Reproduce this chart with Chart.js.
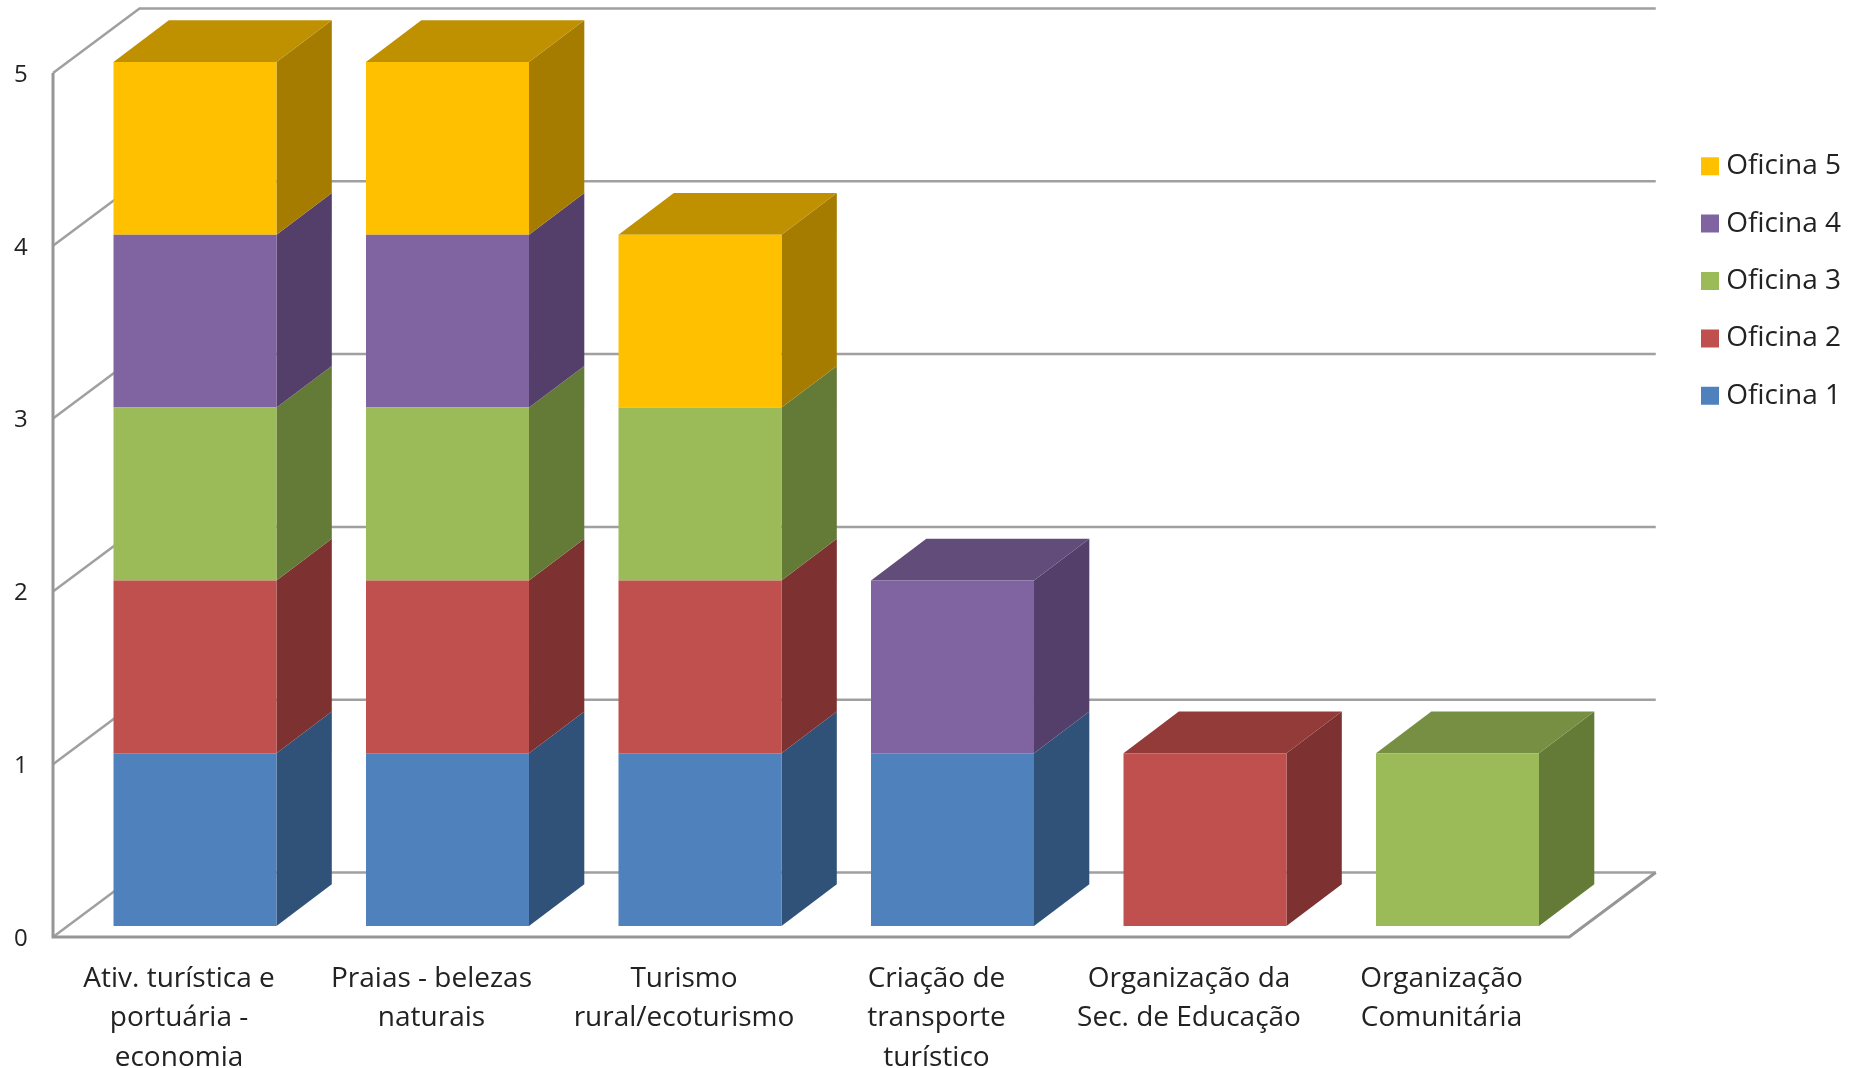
<!DOCTYPE html>
<html>
<head>
<meta charset="utf-8">
<style>
  html, body { margin: 0; padding: 0; background: #fff; }
  canvas { display: block; }
</style>
<script src="https://cdn.jsdelivr.net/npm/chart.js@4/dist/chart.umd.min.js"></script>
</head>
<body>
<canvas id="chart" width="1853" height="1068"></canvas>
<script>
// data
const categories = [
  ['Ativ. turística e', 'portuária -', 'economia'],
  ['Praias - belezas', 'naturais'],
  ['Turismo', 'rural/ecoturismo'],
  ['Criação de', 'transporte', 'turístico'],
  ['Organização da', 'Sec. de Educação'],
  ['Organização', 'Comunitária']
];
const seriesNames = ['Oficina 1', 'Oficina 2', 'Oficina 3', 'Oficina 4', 'Oficina 5'];
const oficina1 = [1, 1, 1, 1, 0, 0];
const oficina2 = [1, 1, 1, 0, 1, 0];
const oficina3 = [1, 1, 1, 0, 0, 1];
const oficina4 = [1, 1, 0, 1, 0, 0];
const oficina5 = [1, 1, 1, 0, 0, 0];
const seriesValues = [oficina1, oficina2, oficina3, oficina4, oficina5];
const yTicks = [0, 1, 2, 3, 4, 5];

// colours
const frontColors = ['#4f81bd', '#c0504d', '#9bbb59', '#8064a2', '#ffc000'];
const sideColors = ['#305278', '#7d3231', '#647a37', '#533f69', '#a67c00'];
const topColors = ['#3a6290', '#923b39', '#778f42', '#614c7a', '#bf9000'];
const gridColor = '#a0a0a0';
const floorColor = '#969696';
const textColor = '#222';
const fontName = '"Open Sans", "Noto Sans", sans-serif';

// 3d offsets
const barDepthX = 55.3;
const barDepthY = 41.7;
const wallDepthX = 86.5;
const wallDepthY = 64.5;
const wallShiftX = 15.75;  // left wall sits left of the plot area
const wallEndX = 14.5;     // floor's front right corner
const wallShiftY = 11;     // and the walls sit below the bars

const polygon = (ctx, pts, color) => {
  ctx.fillStyle = color;
  ctx.beginPath();
  pts.forEach((p, i) => i ? ctx.lineTo(p[0], p[1]) : ctx.moveTo(p[0], p[1]));
  ctx.closePath();
  ctx.fill();
};

const line = (ctx, pts, color, width) => {
  ctx.strokeStyle = color;
  ctx.lineWidth = width;
  ctx.lineJoin = 'miter';
  ctx.beginPath();
  pts.forEach((p, i) => i ? ctx.lineTo(p[0], p[1]) : ctx.moveTo(p[0], p[1]));
  ctx.stroke();
};

// back wall, left wall and floor
const wallsPlugin = {
  id: 'walls',
  beforeDatasetsDraw(chart) {
    const ctx = chart.ctx;
    const y = chart.scales.y;
    const x0 = chart.chartArea.left - wallShiftX;
    const x1 = chart.chartArea.right - wallEndX;
    ctx.save();
    yTicks.forEach(v => {
      const py = y.getPixelForValue(v) + wallShiftY;
      line(ctx, [
        [x0, py],
        [x0 + wallDepthX, py - wallDepthY],
        [x1 + wallDepthX, py - wallDepthY]
      ], gridColor, 2.5);
    });
    const bottom = y.getPixelForValue(0) + wallShiftY;
    line(ctx, [[x0, y.getPixelForValue(5) + wallShiftY], [x0, bottom], [x1, bottom], [x1 + wallDepthX, bottom - wallDepthY]], floorColor, 3);
    ctx.restore();
  }
};

// side and top faces of the bars, taken from the bar elements
const facesPlugin = {
  id: 'faces',
  beforeDatasetsDraw(chart) {
    const ctx = chart.ctx;
    ctx.save();
    categories.forEach((c, i) => {
      let topSeries = -1;
      seriesValues.forEach((vals, s) => {
        if (!vals[i]) return;
        const bar = chart.getDatasetMeta(s).data[i];
        const right = bar.x + bar.width / 2;
        polygon(ctx, [
          [right, bar.y],
          [right + barDepthX, bar.y - barDepthY],
          [right + barDepthX, bar.base - barDepthY],
          [right, bar.base]
        ], sideColors[s]);
        topSeries = s;
      });
      if (topSeries < 0) return;
      const bar = chart.getDatasetMeta(topSeries).data[i];
      const left = bar.x - bar.width / 2;
      const right = bar.x + bar.width / 2;
      polygon(ctx, [
        [left, bar.y],
        [left + barDepthX, bar.y - barDepthY],
        [right + barDepthX, bar.y - barDepthY],
        [right, bar.y]
      ], topColors[topSeries]);
    });
    ctx.restore();
  }
};

// legend sits in the right margin, outside the plot area
const legendPlacePlugin = {
  id: 'legendPlace',
  beforeDraw(chart) {
    const legend = chart.legend;
    const padding = legend.options.labels.padding;
    legend.left = 1701 - padding;
    legend.right = 1841;
    legend.top = 152.2 - padding;
    legend.bottom = 460;
  }
};

new Chart(document.getElementById('chart'), {
  type: 'bar',
  data: {
    labels: categories,
    datasets: seriesNames.map((name, s) => ({
      label: name,
      data: seriesValues[s],
      backgroundColor: frontColors[s],
      borderWidth: 0,
      barPercentage: 0.6455,
      categoryPercentage: 1
    }))
  },
  options: {
    responsive: false,
    animation: false,
    layout: { padding: { top: 62, right: 269.25, left: 0, bottom: 0 } },
    scales: {
      x: {
        stacked: true,
        grid: { display: false, drawTicks: false },
        border: { display: false },
        afterFit: scale => { scale.height = 142; },
        ticks: {
          color: textColor,
          font: { family: fontName, size: 28, lineHeight: 39.5 / 28 },
          padding: 33,
          labelOffset: -16,
          maxRotation: 0,
          minRotation: 0,
          autoSkip: false
        }
      },
      y: {
        stacked: true,
        min: 0,
        max: 5,
        grid: { display: false, drawTicks: false },
        border: { display: false },
        afterFit: scale => { scale.width = 68.75; },
        ticks: {
          color: textColor,
          font: { family: fontName, size: 24 },
          stepSize: 1,
          padding: 41,
          labelOffset: 13
        }
      }
    },
    plugins: {
      tooltip: { enabled: false },
      legend: {
        position: 'chartArea',
        align: 'start',
        reverse: true,
        labels: {
          color: textColor,
          font: { family: fontName, size: 28 },
          boxWidth: 18,
          boxHeight: 18,
          padding: 29.4,
          textAlign: 'right'
        }
      }
    }
  },
  plugins: [legendPlacePlugin, wallsPlugin, facesPlugin]
});
</script>
</body>
</html>
